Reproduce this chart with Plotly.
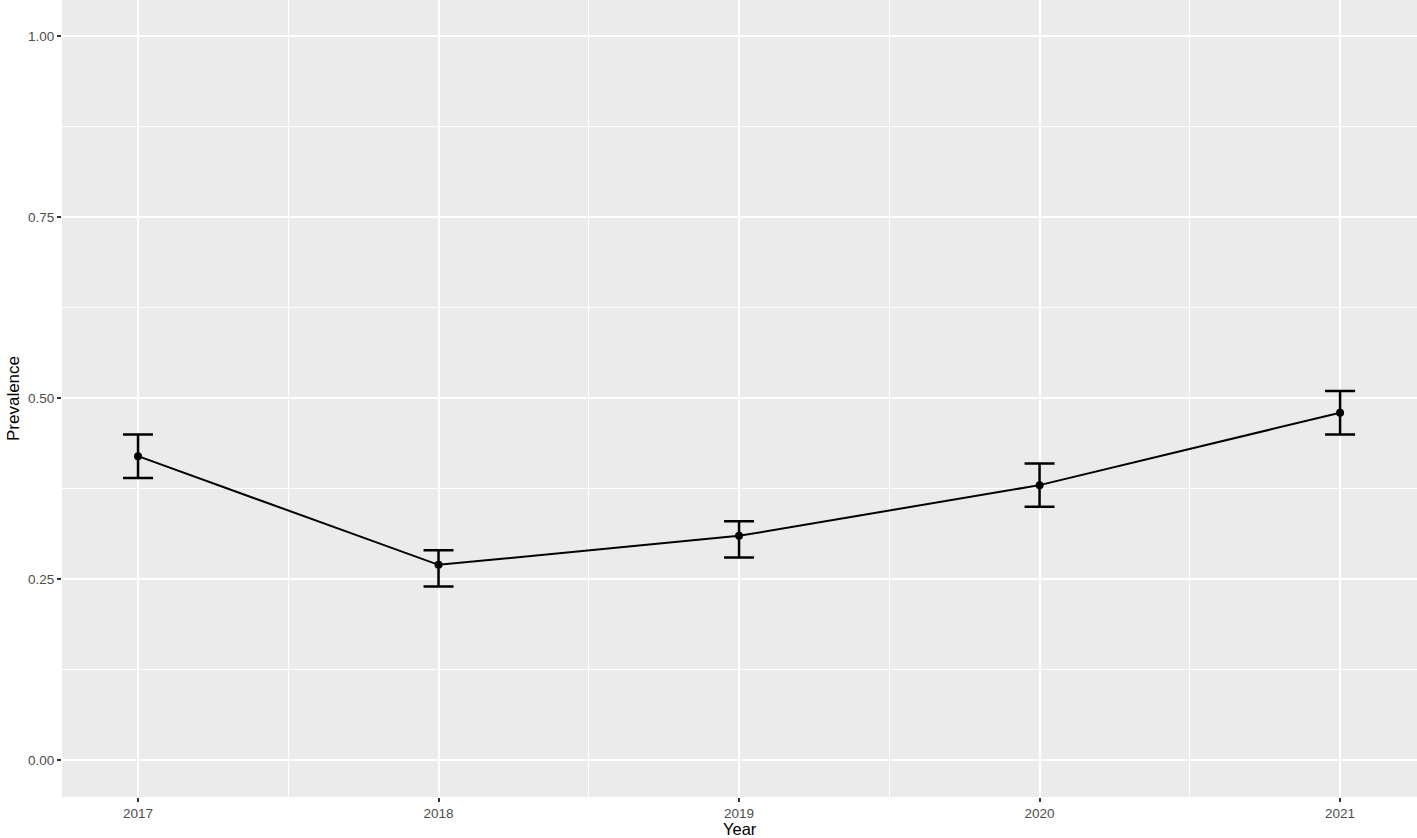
import plotly.graph_objects as go

years = [2017, 2018, 2019, 2020, 2021]
prevalence = [0.42, 0.27, 0.31, 0.38, 0.48]
upper = [0.45, 0.29, 0.33, 0.41, 0.51]
lower = [0.39, 0.24, 0.28, 0.35, 0.45]

err_plus = [u - p for u, p in zip(upper, prevalence)]
err_minus = [p - l for p, l in zip(prevalence, lower)]

fig = go.Figure()
fig.add_trace(go.Scatter(
    x=years, y=prevalence, mode="lines+markers",
    line=dict(color="black", width=2),
    marker=dict(color="black", size=8),
    error_y=dict(type="data", symmetric=False, array=err_plus, arrayminus=err_minus,
                 color="black", thickness=2.5, width=15),
    showlegend=False,
))

font = "Liberation Sans, Arial, sans-serif"
plot_h = 838 - 41
fig.update_layout(
    width=1417, height=838,
    margin=dict(l=62, r=0, t=0, b=41),
    paper_bgcolor="white", plot_bgcolor="#EBEBEB",
    font=dict(family=font, size=13.5, color="#4D4D4D"),
    xaxis=dict(
        range=[2016.747, 2021.256], tickvals=years, ticktext=[str(y) for y in years],
        showgrid=True, gridcolor="white", gridwidth=2.2, zeroline=False,
        ticks="outside", ticklen=4, tickwidth=1.5, tickcolor="#333333",
        minor=dict(tickvals=[2017.5, 2018.5, 2019.5, 2020.5], showgrid=True,
                   gridcolor="white", gridwidth=1.1, ticks=""),
        tickfont=dict(size=13.5, color="#4D4D4D"),
        automargin=False,
    ),
    yaxis=dict(
        range=[-0.0505, 1.0497], tickvals=[0, 0.25, 0.5, 0.75, 1.0],
        tickformat=".2f",
        showgrid=True, gridcolor="white", gridwidth=2.2, zeroline=False,
        ticks="outside", ticklen=4, tickwidth=1.5, tickcolor="#333333",
        minor=dict(tickvals=[0.125, 0.375, 0.625, 0.875], showgrid=True,
                   gridcolor="white", gridwidth=1.1, ticks=""),
        title=dict(text="Prevalence", font=dict(size=17, color="black"), standoff=4),
        tickfont=dict(size=13.5, color="#4D4D4D"),
        automargin=False,
    ),
    annotations=[dict(
        text="Year", xref="paper", yref="paper", x=0.5, y=-41 / plot_h,
        xanchor="center", yanchor="bottom", yshift=-1, showarrow=False,
        borderpad=0,
        font=dict(size=16.5, color="black", family=font),
    )],
)

fig.write_html(
    "out.html",
    config={"displayModeBar": False},
    post_script="document.body.style.margin='0';document.body.style.padding='0';",
)
